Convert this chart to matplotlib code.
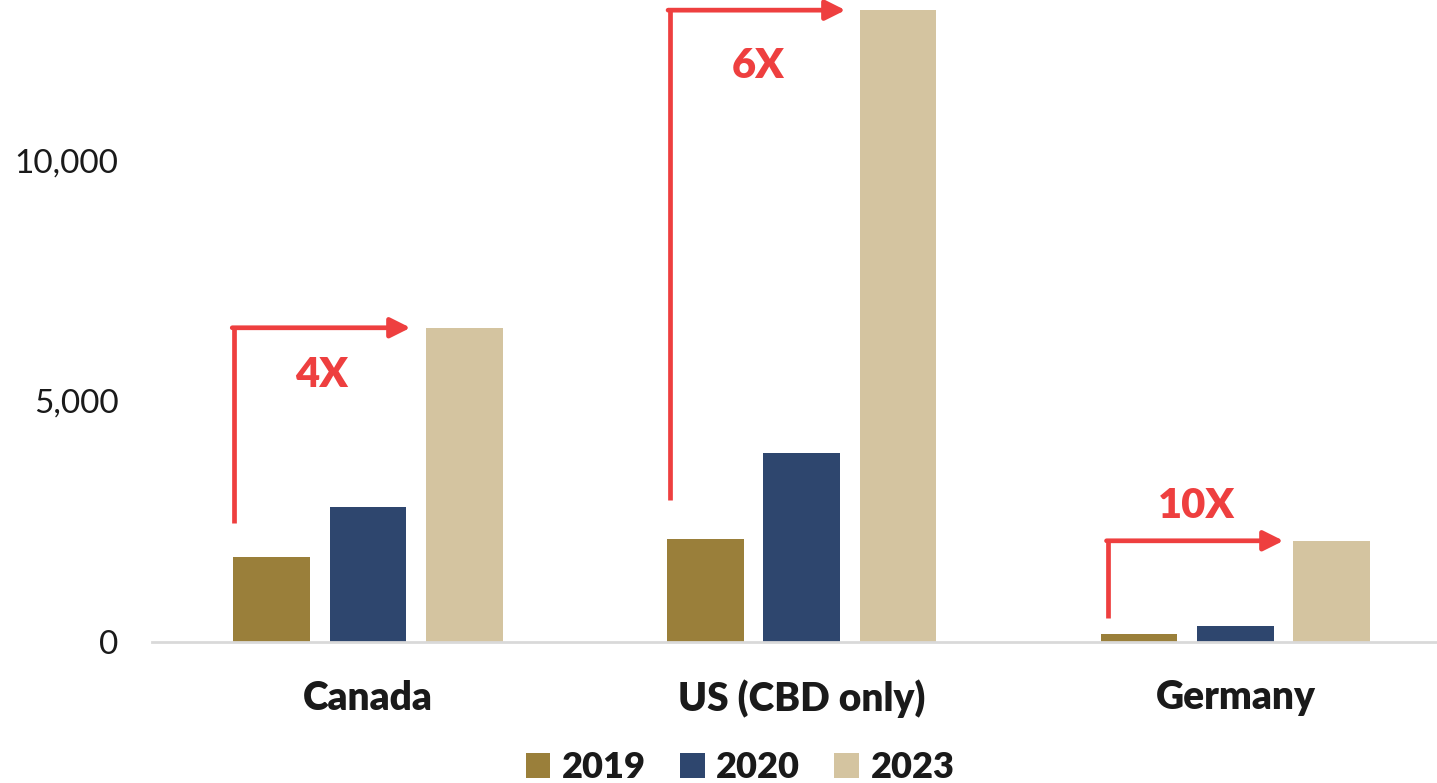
import matplotlib
matplotlib.use("Agg")
import matplotlib.pyplot as plt
import numpy as np

categories = ["Canada", "US (CBD only)", "Germany"]
years = ["2019", "2020", "2023"]
values_2019 = [1760, 2140, 170]
values_2020 = [2800, 3920, 330]
values_2023 = [6520, 13110, 2100]
growth_labels = ["4X", "6X", "10X"]

colors = ["#9A7F3A", "#2E466E", "#D4C4A0"]
red = "#EE3F3F"
ink = "#1a1a1a"

plt.rcParams["font.family"] = ["Lato", "DejaVu Sans"]

fig = plt.figure(figsize=(14.37, 7.83), dpi=100)
ax = fig.add_axes([152 / 1437, 141 / 783, 1 - 152 / 1437, 641 / 783])

x = np.arange(len(categories))
width = 0.177
offset = 0.222
series = [values_2019, values_2020, values_2023]
for i, (vals, col, yr) in enumerate(zip(series, colors, years)):
    ax.bar(x + (i - 1) * offset, vals, width, color=col, label=yr, zorder=2)

ax.set_xlim(-0.498, 2.465)
ax.set_ylim(0, 13300)
ax.set_yticks([0, 5000, 10000])
ax.set_yticklabels(["0", "5,000", "10,000"])
ax.tick_params(axis="y", length=0, pad=24, labelsize=24, labelcolor=ink)
ax.tick_params(axis="x", length=0, pad=27)
ax.set_xticks(x)
ax.set_xticklabels(categories, fontsize=28, fontweight="heavy", color=ink)
for s in ["top", "right", "left"]:
    ax.spines[s].set_visible(False)
ax.spines["bottom"].set_color("#D9D9D9")
ax.spines["bottom"].set_linewidth(2)

# growth arrows: up from the 2019 bar, across to the 2023 bar
arrow_x0 = [-0.309, -0.304, -0.293]
arrow_y0 = [2470, 2950, 500]
arrow_tip = [0.098, 0.101, 0.111]
text_xy = [(-0.106, 5540), (-0.101, 11950), (-0.09, 2820)]
for i in range(len(categories)):
    ytop = series[2][i]
    x0 = x[i] + arrow_x0[i]
    ax.plot([x0, x0], [arrow_y0[i], ytop], color=red, lw=3.4,
            solid_capstyle="butt", zorder=3)
    ax.annotate("", xy=(x[i] + arrow_tip[i], ytop), xytext=(x0 - 0.004, ytop),
                arrowprops=dict(arrowstyle="-|>,head_length=1.2,head_width=0.6",
                                color=red, lw=3.4, shrinkA=0, shrinkB=0),
                zorder=3)
    tx, ty = text_xy[i]
    ax.text(x[i] + tx, ty, growth_labels[i], color=red, fontsize=30,
            fontweight="heavy", ha="center", va="center", zorder=4)

leg = ax.legend(loc="center", ncol=3, frameon=False,
                prop={"size": 26, "weight": "heavy"}, handlelength=0.68,
                handleheight=0.68, handletextpad=0.32, columnspacing=0.95)
leg.set_bbox_to_anchor((740 / 1437, 1 - 768 / 783), transform=fig.transFigure)
for t in leg.get_texts():
    t.set_color(ink)

fig.savefig("out.png", dpi=100, facecolor="white")
